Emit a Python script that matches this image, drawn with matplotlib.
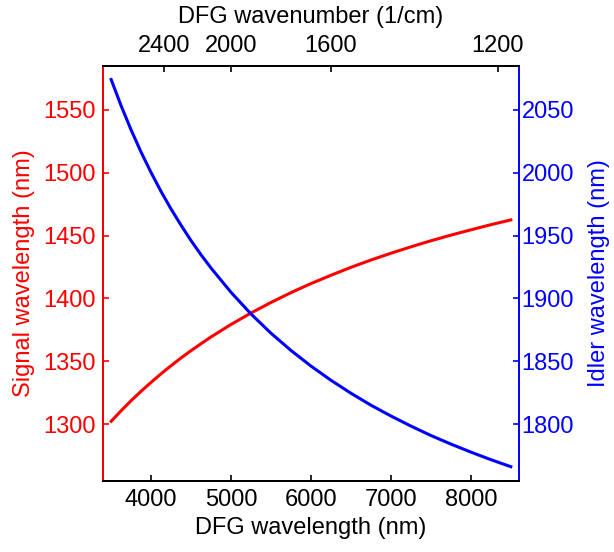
import matplotlib
matplotlib.use("Agg")
import matplotlib.pyplot as plt

plt.rcParams['font.family'] = ['Liberation Sans', 'DejaVu Sans']

# DFG wavelength (nm) vs signal / idler wavelength (nm)
dfg = [3500, 3625, 3750, 3875, 4000, 4125, 4250, 4375, 4500, 4625, 4750,
       5000, 5250, 5500, 5750, 6000, 6250, 6500, 6750, 7000, 7250, 7500,
       7750, 8000, 8250, 8500]
signal = [1302.3, 1310.7, 1318.7, 1326.2, 1333.3, 1340.1, 1346.5, 1352.7,
          1358.5, 1364.0, 1369.4, 1379.3, 1388.4, 1396.8, 1404.6, 1411.8,
          1418.4, 1424.7, 1430.5, 1435.9, 1441.0, 1445.8, 1450.3, 1454.5,
          1458.6, 1462.4]
idler = [2074.0, 2053.1, 2033.9, 2016.2, 2000.0, 1984.9, 1971.0, 1958.1,
         1945.9, 1934.6, 1924.1, 1904.8, 1887.6, 1872.3, 1858.6, 1846.2,
         1834.9, 1824.6, 1815.1, 1806.5, 1798.5, 1791.0, 1784.2, 1777.8,
         1771.8, 1766.2]

x_ticks = [4000, 5000, 6000, 7000, 8000]
top_ticks = [2400, 2000, 1600, 1200]
sig_ticks = [1300, 1350, 1400, 1450, 1500, 1550]
idl_ticks = [1800, 1850, 1900, 1950, 2000, 2050]

fs = 17
lw_sp = 1.4

fig = plt.figure(figsize=(6.14, 5.52), dpi=100)
ax = fig.add_axes([0.168, 0.129, 0.677, 0.752])
ax2 = ax.twinx()

ax.plot(dfg, signal, color='#ff0000', lw=2.2)
ax2.plot(dfg, idler, color='#0000ff', lw=2.2)

ax.set_xlim(3400, 8600)
ax.set_ylim(1255, 1585)
ax2.set_ylim(1755, 2085)

ax.set_xticks(x_ticks)
ax.set_yticks(sig_ticks)
ax2.set_yticks(idl_ticks)

ax.tick_params(axis='x', direction='in', length=4, width=1.2, labelsize=fs, pad=6, colors='black')
ax.tick_params(axis='y', direction='in', length=4, width=1.2, labelsize=fs, pad=5, colors='#ff0000')
ax2.tick_params(axis='y', direction='in', length=4, width=1.2, labelsize=fs, pad=2, colors='#0000ff')

ax.set_xlabel('DFG wavelength (nm)', fontsize=fs, labelpad=4)
ax.set_ylabel('Signal wavelength (nm)', fontsize=fs, color='#ff0000', labelpad=6)
ax2.set_ylabel('Idler wavelength (nm)', fontsize=fs, color='#0000ff', labelpad=10)

# top axis: wavenumber
top = ax.secondary_xaxis('top', functions=(lambda x: 1e7 / x, lambda x: 1e7 / x))
top.set_xticks(top_ticks)
top.tick_params(direction='in', length=4, width=1.2, labelsize=fs, pad=6)
top.set_xlabel('DFG wavenumber (1/cm)', fontsize=fs, labelpad=9)

for a in (ax, ax2):
    for s in a.spines.values():
        s.set_linewidth(lw_sp)
ax.spines['right'].set_visible(False)
ax2.spines['left'].set_color('#ff0000')
ax2.spines['right'].set_color('#0000ff')
ax2.spines['top'].set_color('black')
ax2.spines['bottom'].set_color('black')
top.spines['top'].set_linewidth(lw_sp)

fig.savefig('out.png', dpi=100)
